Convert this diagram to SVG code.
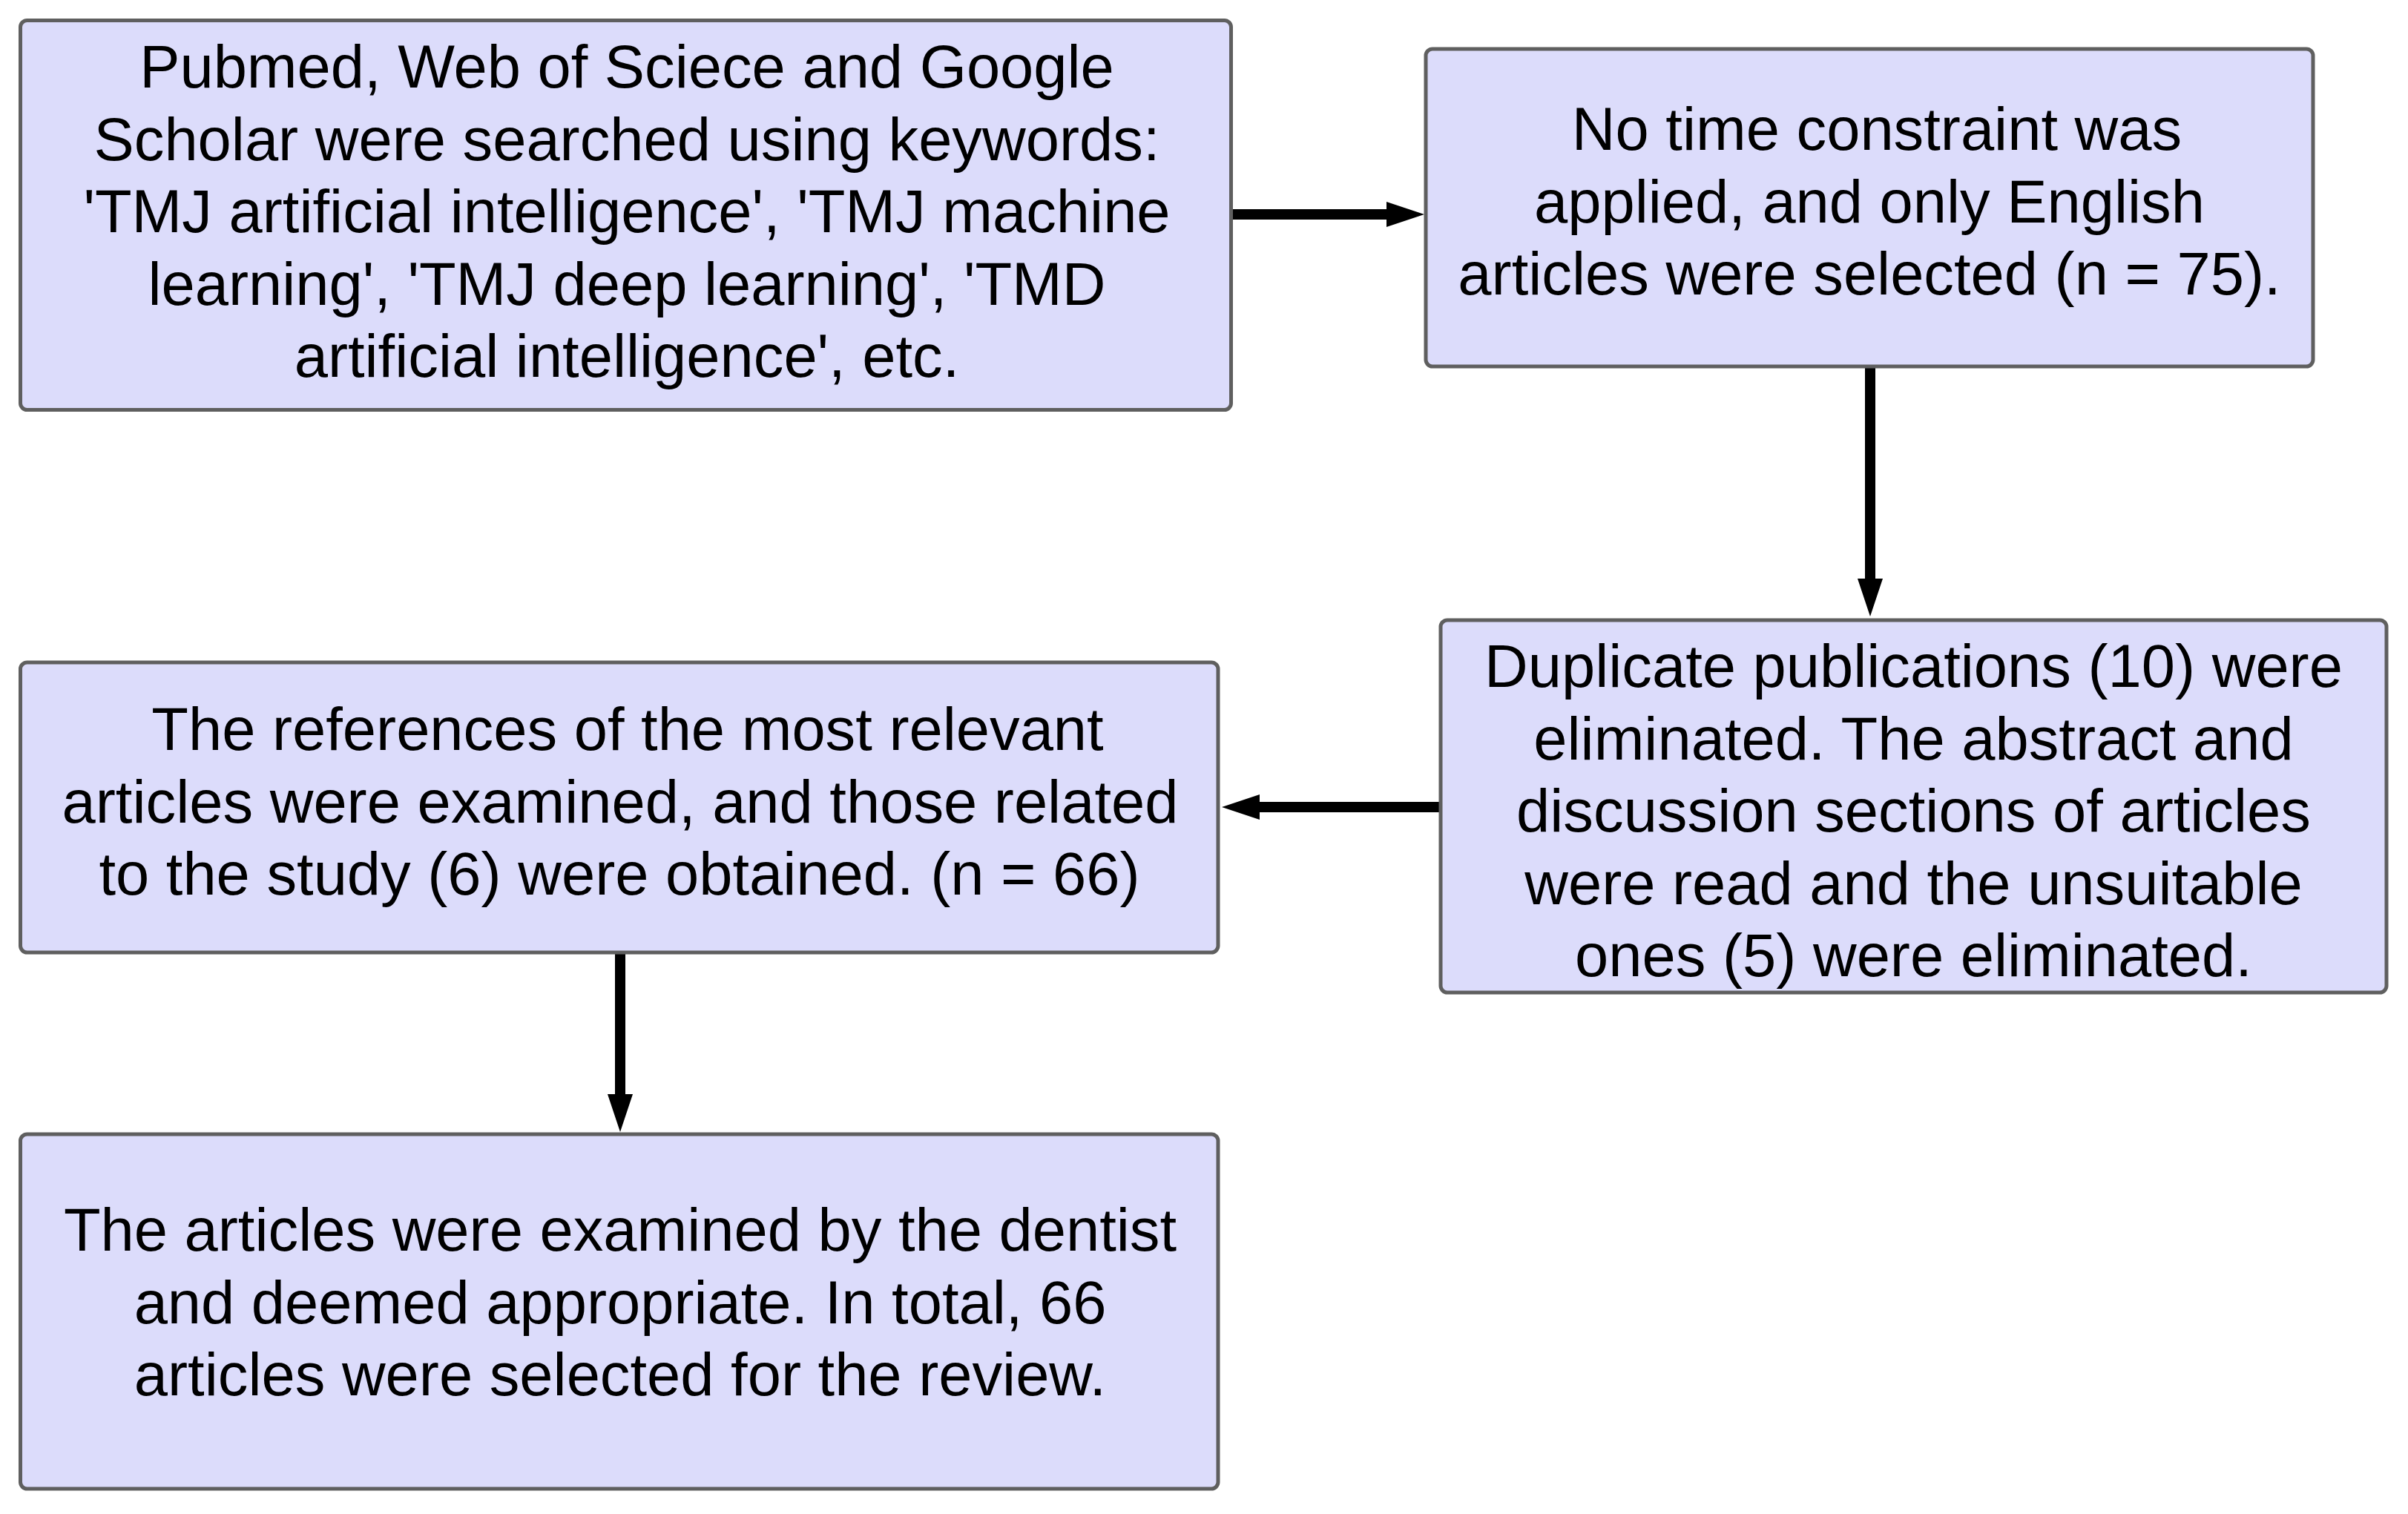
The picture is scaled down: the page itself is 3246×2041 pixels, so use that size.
<svg xmlns="http://www.w3.org/2000/svg" width="3246" height="2041" viewBox="0 0 3246 2041">
<style>
.box{fill:#dcdcfb;stroke:#5f5f5f;stroke-width:5}
.t{font-family:"Liberation Sans",Arial,sans-serif;font-size:81.3px;fill:#000;text-anchor:middle}
.c{stroke:#000;stroke-width:14;fill:none}
</style>
<defs>
<marker id="ah" markerUnits="userSpaceOnUse" markerWidth="52" markerHeight="34" refX="1" refY="17" orient="auto">
<path d="M0,0 L51,17 L0,34 z" fill="#000"/>
</marker>
</defs>
<rect width="3246" height="2041" fill="#fff"/>
<g id="connectors">
<path class="c" d="M1662,289 H1870" marker-end="url(#ah)"/>
<path class="c" d="M2521,496 V781" marker-end="url(#ah)"/>
<path class="c" d="M1940,1088 H1697" marker-end="url(#ah)"/>
<path class="c" d="M836,1286 V1476" marker-end="url(#ah)"/>
</g>
<g id="n1">
<rect class="box" x="27.5" y="27.5" width="1632" height="525" rx="9"/>
<text class="t"><tspan x="845" y="118">Pubmed, Web of Sciece and Google</tspan><tspan x="845" y="215.5">Scholar were searched using keywords:</tspan><tspan x="845" y="313">'TMJ artificial intelligence', 'TMJ machine</tspan><tspan x="845" y="410.5">learning', 'TMJ deep learning', 'TMD</tspan><tspan x="845" y="508">artificial intelligence', etc.</tspan></text>
</g>
<g id="n2">
<rect class="box" x="1922" y="66" width="1196" height="428" rx="9"/>
<text class="t"><tspan x="2530" y="202">No time constraint was</tspan><tspan x="2520" y="299.5">applied, and only English</tspan><tspan x="2520" y="397">articles were selected (n = 75).</tspan></text>
</g>
<g id="n3">
<rect class="box" x="1942" y="836" width="1275" height="502" rx="9"/>
<text class="t"><tspan x="2579.5" y="926">Duplicate publications (10) were</tspan><tspan x="2579.5" y="1023.5">eliminated. The abstract and</tspan><tspan x="2579.5" y="1121">discussion sections of articles</tspan><tspan x="2579.5" y="1218.5">were read and the unsuitable</tspan><tspan x="2579.5" y="1316">ones (5) were eliminated.</tspan></text>
</g>
<g id="n4">
<rect class="box" x="27.5" y="893" width="1614.5" height="391" rx="9"/>
<text class="t"><tspan x="846" y="1011">The references of the most relevant</tspan><tspan x="836" y="1108.5">articles were examined, and those related</tspan><tspan x="835" y="1206">to the study (6) were obtained. (n = 66)</tspan></text>
</g>
<g id="n5">
<rect class="box" x="27.5" y="1529" width="1614.5" height="478" rx="9"/>
<text class="t"><tspan x="836" y="1686">The articles were examined by the dentist</tspan><tspan x="836" y="1783.5">and deemed appropriate. In total, 66</tspan><tspan x="836" y="1881">articles were selected for the review.</tspan></text>
</g>
</svg>
